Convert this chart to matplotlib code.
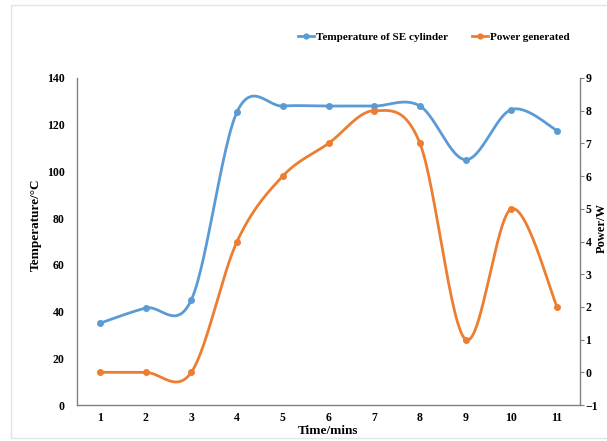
import numpy as np
import matplotlib.pyplot as plt
from matplotlib.patches import Rectangle

plt.rcParams['font.family'] = ['Liberation Serif', 'DejaVu Serif']
plt.rcParams['font.weight'] = 'bold'

time_min = [1, 2, 3, 4, 5, 6, 7, 8, 9, 10, 11]
temperature = [35, 41.5, 45, 125.5, 128, 128, 128, 128, 105, 126.5, 117.5]
power = [0, 0, 0, 4, 6, 7, 8, 7, 1, 5, 2]

blue = '#5B9BD5'
orange = '#ED7D31'


def smooth(x, y, n=30):
    # Excel-style smoothed line: Bezier segments, Catmull-Rom control points
    x = np.asarray(x, float)
    y = np.asarray(y, float)
    px = np.concatenate([[x[0]], x, [x[-1]]])
    py = np.concatenate([[y[0]], y, [y[-1]]])
    t = np.linspace(0, 1, n)[:, None]
    xs, ys = [], []
    for i in range(len(x) - 1):
        p0 = np.array([px[i + 1], py[i + 1]])
        p3 = np.array([px[i + 2], py[i + 2]])
        c1 = p0 + (p3 - np.array([px[i], py[i]])) / 6
        c2 = p3 - (np.array([px[i + 3], py[i + 3]]) - p0) / 6
        b = ((1 - t) ** 3) * p0 + 3 * ((1 - t) ** 2) * t * c1 + 3 * (1 - t) * t ** 2 * c2 + t ** 3 * p3
        xs.append(b[:, 0])
        ys.append(b[:, 1])
    return np.concatenate(xs), np.concatenate(ys)


fig = plt.figure(figsize=(6.07, 4.41), dpi=100)
fig.patches.append(Rectangle((11 / 607, 3 / 441), 1.0, 433 / 441, transform=fig.transFigure,
                             fill=False, edgecolor='#e4e4e4', lw=1))
ax = fig.add_axes([77 / 607, 36 / 441, 503 / 607, 327 / 441])
ax2 = ax.twinx()

sx, sy = smooth(time_min, temperature)
ax.plot(sx, sy, color=blue, lw=2)
ax.plot(time_min, temperature, 'o', color=blue, ms=4)
px_, py_ = smooth(time_min, power)
ax2.plot(px_, py_, color=orange, lw=2)
ax2.plot(time_min, power, 'o', color=orange, ms=4)

ax.set_xlim(0.5, 11.5)
ax.set_ylim(0, 140)
ax2.set_ylim(-1, 9)
ax.set_xticks(time_min)
ax.set_yticks(range(0, 141, 20))
ax2.set_yticks(range(-1, 10))

for a in (ax, ax2):
    a.spines['top'].set_visible(False)
    for s in a.spines.values():
        s.set_color('#808080')
        s.set_linewidth(1)
ax.spines['right'].set_visible(False)
ax2.spines['left'].set_visible(False)
ax2.spines['bottom'].set_visible(False)

ax.tick_params(axis='x', length=0, labelsize=8.5, pad=5)
ax.tick_params(axis='y', length=0, labelsize=8.5, pad=9)
ax2.tick_params(axis='y', length=3, color='#808080', labelsize=8.5, pad=1)
for lab in ax.get_xticklabels() + ax.get_yticklabels() + ax2.get_yticklabels():
    lab.set_fontweight('bold')

ax.set_xlabel('Time/mins', fontsize=9.5, fontweight='bold', labelpad=1)
ax.set_ylabel('Temperature/\u00b0C', fontsize=9.5, fontweight='bold')
ax.yaxis.set_label_coords(-0.07, 0.55)
fig.text(602 / 607, 1 - 228 / 441, 'Power/W', rotation=90, ha='center', va='center',
         fontsize=9, fontweight='bold')

h1, = ax.plot([], [], '-o', color=blue, lw=2, ms=3.5)
h2, = ax.plot([], [], '-o', color=orange, lw=2, ms=3.5)
fig.legend([h1, h2], ['Temperature of SE cylinder', 'Power generated'], ncol=2,
           loc='center', bbox_to_anchor=(434 / 607, 1 - 37 / 441), frameon=False,
           prop={'size': 8, 'weight': 'bold'}, handlelength=1.4, handletextpad=0.2,
           columnspacing=2.2)

fig.savefig('out.png', dpi=100)
